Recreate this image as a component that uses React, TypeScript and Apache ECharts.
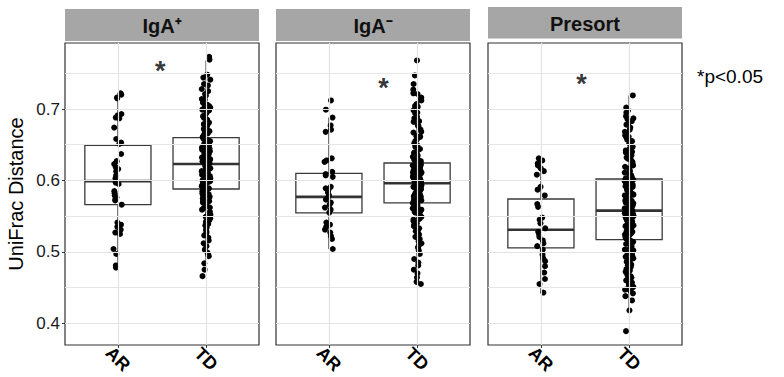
import React, { useEffect, useRef } from "react";
import * as echarts from "echarts";

// ---------- data ----------
const panelNames = ["IgA⁺", "IgA⁻", "Presort"];
const groupNames = ["AR", "TD"];
const yMajorTicks = [0.4, 0.5, 0.6, 0.7];
const yMinorTicks = [0.45, 0.55, 0.65, 0.75];
const yDomain = [0.3696, 0.7924];

// UniFrac distances, IgA+
const igaPosAR = [0.722, 0.720, 0.716, 0.715, 0.693, 0.691, 0.688, 0.687, 0.674, 0.658, 0.653, 0.651, 0.637, 0.627, 0.623, 0.619, 0.616, 0.613, 0.607, 0.603, 0.597, 0.595, 0.585, 0.582, 0.579, 0.576, 0.574, 0.572, 0.566, 0.541, 0.538, 0.535, 0.531, 0.527, 0.525, 0.504, 0.497, 0.481, 0.478];
const igaPosTD = [
  0.773, 0.769, 0.748, 0.744, 0.741, 0.735, 0.733, 0.728, 0.725, 0.721, 0.719, 0.714, 0.713, 0.709, 0.706, 0.704, 0.702, 0.699, 0.698, 0.694, 0.691, 0.690, 0.687, 0.685, 0.684, 0.681, 0.678, 0.677, 0.674, 0.673, 0.671, 0.669, 0.668, 0.666, 0.664, 0.663, 0.661, 0.703, 0.696, 0.688, 0.679, 0.672,
  0.659, 0.657, 0.656, 0.654, 0.653, 0.651, 0.650, 0.648, 0.647, 0.645, 0.644, 0.643, 0.641, 0.640, 0.638, 0.637, 0.636, 0.634, 0.633, 0.631, 0.630, 0.629, 0.627, 0.626, 0.625, 0.624, 0.658, 0.652, 0.646, 0.639, 0.632, 0.628, 0.649, 0.642, 0.635, 0.655, 0.623, 0.644, 0.637, 0.651, 0.629, 0.641,
  0.622, 0.620, 0.619, 0.617, 0.616, 0.614, 0.613, 0.611, 0.610, 0.608, 0.607, 0.605, 0.604, 0.603, 0.601, 0.600, 0.598, 0.597, 0.595, 0.594, 0.593, 0.591, 0.590, 0.589, 0.621, 0.615, 0.609, 0.602, 0.596, 0.592, 0.618, 0.612, 0.606, 0.599, 0.588, 0.614, 0.603, 0.611, 0.597, 0.606, 0.600, 0.617,
  0.587, 0.585, 0.584, 0.582, 0.580, 0.578, 0.577, 0.575, 0.573, 0.571, 0.569, 0.567, 0.565, 0.563, 0.561, 0.559, 0.556, 0.554, 0.552, 0.549, 0.547, 0.544, 0.542, 0.539, 0.537, 0.534, 0.531, 0.528, 0.526, 0.523, 0.520, 0.516, 0.512, 0.508, 0.503, 0.499, 0.496, 0.494, 0.484, 0.475, 0.466, 0.581, 0.572, 0.562,
];

// UniFrac distances, IgA-
const igaNegAR = [0.712, 0.699, 0.688, 0.677, 0.671, 0.668, 0.631, 0.628, 0.626, 0.612, 0.609, 0.607, 0.605, 0.591, 0.589, 0.586, 0.583, 0.579, 0.576, 0.573, 0.569, 0.566, 0.562, 0.559, 0.555, 0.541, 0.538, 0.535, 0.531, 0.527, 0.522, 0.518, 0.504];
const igaNegTD = [
  0.768, 0.747, 0.735, 0.727, 0.722, 0.721, 0.716, 0.713, 0.712, 0.707, 0.704, 0.703, 0.698, 0.695, 0.694, 0.689, 0.687, 0.683, 0.682, 0.677, 0.676, 0.671, 0.668, 0.667, 0.662, 0.661, 0.657, 0.655, 0.652, 0.649, 0.647, 0.644, 0.642, 0.639, 0.638, 0.635, 0.633, 0.631, 0.629, 0.627, 0.626, 0.625,
  0.623, 0.622, 0.620, 0.620, 0.618, 0.617, 0.615, 0.614, 0.613, 0.611, 0.610, 0.608, 0.607, 0.606, 0.604, 0.603, 0.601, 0.600, 0.599, 0.598, 0.597, 0.621, 0.619, 0.616, 0.612, 0.609, 0.605, 0.602, 0.598, 0.624, 0.618, 0.613, 0.607, 0.603, 0.600, 0.596, 0.615, 0.610, 0.606, 0.622, 0.611, 0.604,
  0.595, 0.594, 0.592, 0.591, 0.590, 0.588, 0.587, 0.586, 0.584, 0.583, 0.581, 0.580, 0.579, 0.577, 0.576, 0.575, 0.573, 0.572, 0.571, 0.569, 0.593, 0.589, 0.585, 0.582, 0.578, 0.574, 0.570, 0.596, 0.591, 0.587, 0.583, 0.579, 0.574, 0.570, 0.594, 0.588, 0.581, 0.576, 0.572, 0.590, 0.584, 0.577,
  0.568, 0.566, 0.564, 0.562, 0.561, 0.559, 0.557, 0.555, 0.553, 0.551, 0.549, 0.547, 0.545, 0.543, 0.540, 0.538, 0.536, 0.533, 0.531, 0.529, 0.526, 0.524, 0.521, 0.518, 0.515, 0.512, 0.509, 0.506, 0.502, 0.497, 0.490, 0.485, 0.481, 0.475, 0.470, 0.464, 0.458, 0.455, 0.563, 0.556, 0.546, 0.534,
];

// UniFrac distances, Presort
const presortAR = [0.631, 0.628, 0.624, 0.621, 0.617, 0.613, 0.608, 0.591, 0.587, 0.579, 0.567, 0.563, 0.548, 0.545, 0.540, 0.533, 0.528, 0.525, 0.521, 0.516, 0.512, 0.508, 0.503, 0.496, 0.491, 0.487, 0.480, 0.471, 0.462, 0.455, 0.443];
const presortTD = [
  0.719, 0.702, 0.698, 0.695, 0.690, 0.687, 0.683, 0.680, 0.678, 0.674, 0.671, 0.668, 0.666, 0.663, 0.660, 0.657, 0.655, 0.652, 0.649, 0.647, 0.645, 0.642, 0.640, 0.637, 0.635, 0.632, 0.630, 0.628, 0.626, 0.624, 0.621, 0.619, 0.617, 0.615, 0.613, 0.611, 0.609, 0.607, 0.606, 0.604, 0.603, 0.686, 0.661, 0.639,
  0.601, 0.600, 0.598, 0.597, 0.595, 0.594, 0.592, 0.591, 0.589, 0.588, 0.586, 0.585, 0.583, 0.582, 0.580, 0.578, 0.577, 0.575, 0.574, 0.572, 0.570, 0.569, 0.567, 0.566, 0.564, 0.563, 0.561, 0.560, 0.559, 0.599, 0.593, 0.587, 0.581, 0.576, 0.571, 0.565, 0.562, 0.596, 0.584, 0.573, 0.590, 0.579, 0.568, 0.558,
  0.557, 0.556, 0.554, 0.553, 0.551, 0.550, 0.548, 0.547, 0.545, 0.544, 0.542, 0.541, 0.539, 0.538, 0.536, 0.535, 0.533, 0.532, 0.530, 0.529, 0.527, 0.526, 0.524, 0.523, 0.521, 0.520, 0.518, 0.555, 0.549, 0.543, 0.537, 0.531, 0.525, 0.519, 0.552, 0.546, 0.540, 0.534, 0.528, 0.522, 0.517, 0.548, 0.536, 0.526,
  0.516, 0.514, 0.512, 0.510, 0.508, 0.506, 0.504, 0.502, 0.500, 0.498, 0.495, 0.493, 0.491, 0.488, 0.486, 0.484, 0.481, 0.479, 0.476, 0.474, 0.471, 0.468, 0.466, 0.463, 0.460, 0.457, 0.454, 0.451, 0.448, 0.445, 0.442, 0.438, 0.432, 0.418, 0.389, 0.511, 0.503, 0.497, 0.489, 0.482, 0.472, 0.464, 0.455, 0.447,
];

// box statistics: [lower whisker, Q1, median, Q3, upper whisker]
const igaPosARBox = [0.477, 0.566, 0.599, 0.649, 0.722];
const igaPosTDBox = [0.484, 0.588, 0.623, 0.660, 0.768];
const igaNegARBox = [0.504, 0.5545, 0.577, 0.610, 0.688];
const igaNegTDBox = [0.487, 0.5685, 0.596, 0.6244, 0.705];
const presortARBox = [0.443, 0.5055, 0.531, 0.574, 0.631];
const presortTDBox = [0.418, 0.517, 0.5577, 0.602, 0.719];

// significance mark (x between groups, y height)
const sigMarks = [[1.48, 0.753], [1.62, 0.730], [1.46, 0.735]];
const sigNote = "*p<0.05";

// ---------- layout ----------
const FONT = "Liberation Sans, Arial, Helvetica, sans-serif";
const PANEL_LEFT = [65, 276, 488];
const PANEL_W = 194;
const PANEL_TOP = 43;
const PANEL_H = 302;
const STRIP_Y = [9, 9, 7];
const STRIP_H = [32, 32, 31.5];
const JITTER = 0.05;

const panelData = [
  { ar: igaPosAR, td: igaPosTD, arBox: igaPosARBox, tdBox: igaPosTDBox },
  { ar: igaNegAR, td: igaNegTD, arBox: igaNegARBox, tdBox: igaNegTDBox },
  { ar: presortAR, td: presortTD, arBox: presortARBox, tdBox: presortTDBox },
];

// deterministic horizontal jitter (presentation only)
function jitterOffset(i: number, seed: number) {
  const s = Math.sin(i * 12.9898 + seed * 78.233 + 1.7) * 43758.5453;
  const f = s - Math.floor(s);
  return (f - 0.5) * 2 * JITTER;
}

export default function App() {
  const ref = useRef<HTMLDivElement>(null);
  useEffect(() => {
    if (!ref.current) return;
    const chart = echarts.init(ref.current, null, { renderer: "svg" });

    const grids: any[] = [];
    const xAxes: any[] = [];
    const yAxes: any[] = [];
    const series: any[] = [];
    const graphics: any[] = [];

    panelData.forEach((p, k) => {
      grids.push({
        left: PANEL_LEFT[k],
        top: PANEL_TOP,
        width: PANEL_W,
        height: PANEL_H,
        show: true,
        backgroundColor: "#fff",
        borderColor: "#333",
        borderWidth: 1.2,
      });
      xAxes.push({
        type: "value",
        gridIndex: k,
        min: 0.4,
        max: 2.6,
        axisLine: { show: false },
        splitLine: { show: false },
        axisTick: { show: true, customValues: [1, 2], length: 3, lineStyle: { color: "#333", width: 1 } },
        axisLabel: {
          show: true,
          customValues: [1, 2],
          formatter: (v: number) => groupNames[Math.round(v) - 1] || "",
          rotate: -45,
          align: "center",
          verticalAlign: "middle",
          margin: 14,
          fontSize: 18,
          fontWeight: "bold",
          color: "#000",
          fontFamily: FONT,
        },
      });
      yAxes.push({
        type: "value",
        gridIndex: k,
        min: yDomain[0],
        max: yDomain[1],
        axisLine: { show: false },
        splitLine: { show: false },
        axisTick: k === 0
          ? { show: true, customValues: yMajorTicks, length: 3, lineStyle: { color: "#333", width: 1 } }
          : { show: false },
        axisLabel: k === 0
          ? { show: true, customValues: yMajorTicks, formatter: (v: number) => v.toFixed(1), margin: 5, fontSize: 17, color: "#1a1a1a", fontFamily: FONT }
          : { show: false },
        name: k === 0 ? "UniFrac Distance" : "",
        nameLocation: "middle",
        nameGap: 39,
        nameTextStyle: { fontSize: 20, color: "#000", fontFamily: FONT },
      });

      // grid lines
      series.push({
        type: "scatter",
        xAxisIndex: k,
        yAxisIndex: k,
        data: [],
        silent: true,
        z: 1,
        markLine: {
          silent: true,
          symbol: "none",
          animation: false,
          label: { show: false },
          lineStyle: { color: "#e3e3e3", width: 1.2, type: "solid" },
          data: [
            ...yMajorTicks.map((v) => ({ yAxis: v })),
            ...yMinorTicks.map((v) => ({ yAxis: v, lineStyle: { color: "#e6e6e6", width: 1, type: "solid" } })),
            ...[1, 2].map((v) => ({ xAxis: v })),
          ],
        },
      });

      // boxes
      series.push({
        type: "custom",
        xAxisIndex: k,
        yAxisIndex: k,
        z: 3,
        silent: true,
        data: [[1, ...p.arBox], [2, ...p.tdBox]],
        encode: { x: 0, y: [1, 2, 3, 4, 5] },
        renderItem: (params: any, api: any) => {
          const x = api.value(0);
          const lo = api.coord([x, api.value(1)]);
          const q1 = api.coord([x, api.value(2)]);
          const md = api.coord([x, api.value(3)]);
          const q3 = api.coord([x, api.value(4)]);
          const hi = api.coord([x, api.value(5)]);
          const hw = api.size([0.75, 0])[0] / 2;
          const stroke = "#3a3a3a";
          return {
            type: "group",
            children: [
              { type: "line", shape: { x1: lo[0], y1: lo[1], x2: q1[0], y2: q1[1] }, style: { stroke, lineWidth: 1.3 } },
              { type: "line", shape: { x1: q3[0], y1: q3[1], x2: hi[0], y2: hi[1] }, style: { stroke, lineWidth: 1.3 } },
              { type: "rect", shape: { x: q3[0] - hw, y: q3[1], width: hw * 2, height: q1[1] - q3[1] }, style: { fill: "#fff", stroke, lineWidth: 1.3 } },
              { type: "line", shape: { x1: md[0] - hw, y1: md[1], x2: md[0] + hw, y2: md[1] }, style: { stroke: "#333", lineWidth: 2.6 } },
            ],
          };
        },
      });

      // jittered points
      [p.ar, p.td].forEach((vals, g) => {
        series.push({
          type: "scatter",
          xAxisIndex: k,
          yAxisIndex: k,
          z: 4,
          silent: true,
          symbol: "circle",
          symbolSize: 6,
          itemStyle: { color: "#000", opacity: 1 },
          data: vals.map((v, i) => [g + 1 + jitterOffset(i, k * 2 + g), v]),
        });
      });

      // significance asterisk
      series.push({
        type: "scatter",
        xAxisIndex: k,
        yAxisIndex: k,
        z: 5,
        silent: true,
        symbolSize: 0,
        itemStyle: { color: "transparent" },
        data: [sigMarks[k]],
        label: { show: true, position: "inside", formatter: "*", fontSize: 27, fontWeight: "bold", color: "#000", fontFamily: FONT },
      });

      // strip
      graphics.push({
        type: "rect",
        shape: { x: PANEL_LEFT[k], y: STRIP_Y[k], width: PANEL_W, height: STRIP_H[k] },
        style: { fill: "#a6a6a6" },
        silent: true,
      });
      graphics.push({
        type: "text",
        x: PANEL_LEFT[k] + PANEL_W / 2,
        y: STRIP_Y[k] + STRIP_H[k] / 2 + 1,
        style: { text: panelNames[k], fill: "#111", font: `bold 20px ${FONT}`, textAlign: "center", textVerticalAlign: "middle" },
        silent: true,
      });
    });

    graphics.push({
      type: "text",
      x: 697,
      y: 76,
      style: { text: sigNote, fill: "#000", font: `19px ${FONT}`, textAlign: "left", textVerticalAlign: "middle" },
      silent: true,
    });

    chart.setOption({
      animation: false,
      backgroundColor: "#fff",
      grid: grids,
      xAxis: xAxes,
      yAxis: yAxes,
      series,
      graphic: graphics,
    });
    return () => chart.dispose();
  }, []);

  return <div ref={ref} style={{ position: "fixed", left: 0, top: 0, width: 784, height: 377 }} />;
}
